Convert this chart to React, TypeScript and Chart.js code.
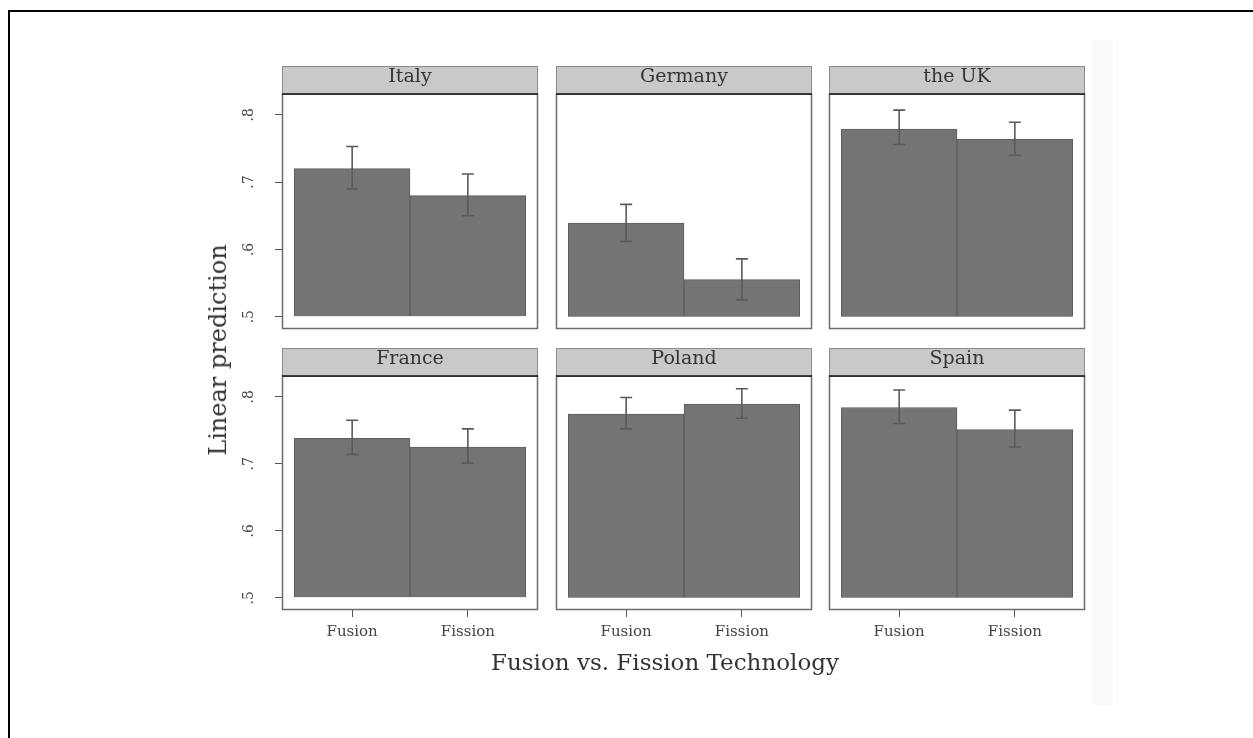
import React, { useEffect, useRef } from "react";
import { Chart, registerables } from "chart.js";

Chart.register(...registerables);

// ---------------- data ----------------
const countries = ["Italy", "Germany", "the UK", "France", "Poland", "Spain"];
const technologies = ["Fusion", "Fission"];
const techPositions = [0, 1];
const fusionMeans = [0.72, 0.639, 0.779, 0.738, 0.774, 0.784];
const fissionMeans = [0.68, 0.555, 0.764, 0.725, 0.789, 0.751];
const fusionLow = [0.69, 0.612, 0.756, 0.714, 0.752, 0.76];
const fusionHigh = [0.753, 0.667, 0.807, 0.765, 0.799, 0.81];
const fissionLow = [0.65, 0.525, 0.74, 0.701, 0.768, 0.725];
const fissionHigh = [0.712, 0.586, 0.789, 0.752, 0.812, 0.78];
const yTickValues = [0.5, 0.6, 0.7, 0.8];
const yTickLabels = [".5", ".6", ".7", ".8"];
const Y_MIN = 0.4817;
const Y_MAX = 0.831;
const BAR_BASE = 0.5;
const X_MIN = -0.6063;
const X_MAX = 1.6063;

// ---------------- layout ----------------
const PLOT_LEFTS = [282, 556, 829];
const PLOT_TOPS = [94, 376];
const PLOT_HEIGHTS = [235, 234];
const PLOT_W = 256;
const HEADER_H = 28;
const SERIF = '"DejaVu Serif", serif';

function Panel({ idx }: { idx: number }) {
  const ref = useRef<HTMLCanvasElement>(null);
  const col = idx % 3;
  const row = Math.floor(idx / 3);
  const isLeft = col === 0;
  const isBottom = row === 1;
  const yAxisW = isLeft ? 80 : 0;
  const padL = isLeft ? 0 : 3;
  const padR = 3;
  const padT = HEADER_H + 3;
  const xAxisH = isBottom ? 40 : 0;
  const padB = isBottom ? 0 : 3;
  const plotH = PLOT_HEIGHTS[row];
  const cw = yAxisW + padL + PLOT_W + padR;
  const ch = padT + plotH + xAxisH + padB;
  const left = PLOT_LEFTS[col] - yAxisW - padL;
  const top = PLOT_TOPS[row] - padT;

  useEffect(() => {
    if (!ref.current) return;
    const title = countries[idx];
    const lows = [fusionLow[idx], fissionLow[idx]];
    const highs = [fusionHigh[idx], fissionHigh[idx]];
    const means = [fusionMeans[idx], fissionMeans[idx]];

    const decor = {
      id: "panelDecor",
      afterDatasetsDraw(chart: any) {
        const ctx = chart.ctx;
        const meta = chart.getDatasetMeta(0);
        const ys = chart.scales.y;
        ctx.save();
        ctx.strokeStyle = "#5a5a5a";
        ctx.lineWidth = 1.6;
        meta.data.forEach((el: any, i: number) => {
          const x = el.x;
          const yt = ys.getPixelForValue(highs[i]);
          const yb = ys.getPixelForValue(lows[i]);
          ctx.beginPath();
          ctx.moveTo(x, yt);
          ctx.lineTo(x, yb);
          ctx.moveTo(x - 6, yt);
          ctx.lineTo(x + 6, yt);
          ctx.moveTo(x - 6, yb);
          ctx.lineTo(x + 6, yb);
          ctx.stroke();
        });
        ctx.restore();
      },
      afterDraw(chart: any) {
        const ctx = chart.ctx;
        const a = chart.chartArea;
        ctx.save();
        ctx.strokeStyle = "#6c6c6c";
        ctx.lineWidth = 1.5;
        ctx.strokeRect(a.left + 0.5, a.top, a.right - a.left - 1, a.bottom - a.top - 0.5);
        const hTop = a.top - HEADER_H;
        ctx.fillStyle = "#c9c9c9";
        ctx.fillRect(a.left, hTop, a.right - a.left, HEADER_H);
        ctx.strokeStyle = "#8c8c8c";
        ctx.lineWidth = 1;
        ctx.strokeRect(a.left + 0.5, hTop + 0.5, a.right - a.left - 1, HEADER_H);
        ctx.strokeStyle = "#111";
        ctx.lineWidth = 1.6;
        ctx.beginPath();
        ctx.moveTo(a.left, a.top);
        ctx.lineTo(a.right, a.top);
        ctx.stroke();
        ctx.fillStyle = "#333";
        ctx.font = "19px " + SERIF;
        ctx.textAlign = "center";
        ctx.textBaseline = "alphabetic";
        ctx.fillText(title, (a.left + a.right) / 2, hTop + 16);
        ctx.restore();
      },
    };

    const gridOpts = {
      display: true,
      offset: false,
      drawOnChartArea: false,
      drawTicks: true,
      tickLength: 7,
      color: "#555",
      lineWidth: 1,
    };

    const chart = new Chart(ref.current, {
      type: "bar",
      data: {
        datasets: [
          {
            data: techPositions.map((x, j) => ({ x, y: means[j] })),
            backgroundColor: "#747474",
            borderColor: "#5e5e5e",
            borderWidth: 1,
            base: BAR_BASE,
            categoryPercentage: 1,
            barPercentage: 1,
          } as any,
        ],
      },
      options: {
        animation: false,
        responsive: false,
        events: [],
        layout: { padding: { left: padL, right: padR, top: padT, bottom: padB } },
        plugins: {
          legend: { display: false },
          tooltip: { enabled: false },
          title: { display: false },
        },
        scales: {
          x: {
            type: "linear",
            offset: false,
            bounds: "data",
            min: X_MIN,
            max: X_MAX,
            display: isBottom,
            afterBuildTicks: (s: any) => {
              s.ticks = techPositions.map((v) => ({ value: v }));
            },
            afterFit: (s: any) => {
              if (isBottom) s.height = xAxisH;
              s.paddingLeft = 0;
              s.paddingRight = 0;
            },
            grid: gridOpts,
            border: { display: false },
            ticks: {
              padding: 6,
              color: "#444",
              font: { family: SERIF, size: 15 },
              autoSkip: false,
              maxRotation: 0,
              minRotation: 0,
              callback: (_v: any, i: number) => technologies[i],
            },
          },
          y: {
            type: "linear",
            min: Y_MIN,
            max: Y_MAX,
            display: isLeft,
            afterBuildTicks: (s: any) => {
              s.ticks = yTickValues.map((v) => ({ value: v }));
            },
            afterFit: (s: any) => {
              if (isLeft) s.width = yAxisW;
              s.paddingTop = 0;
              s.paddingBottom = 0;
            },
            grid: gridOpts,
            border: { display: false },
            ticks: {
              padding: 19,
              color: "#444",
              font: { family: SERIF, size: 14 },
              autoSkip: false,
              minRotation: 90,
              maxRotation: 90,
              crossAlign: "center",
              callback: (_v: any, i: number) => yTickLabels[i],
            },
          },
        },
      } as any,
      plugins: [decor],
    });
    return () => chart.destroy();
  }, [idx]);

  return (
    <canvas
      ref={ref}
      width={cw}
      height={ch}
      style={{ position: "absolute", left, top, width: cw, height: ch }}
    />
  );
}

export default function App() {
  return (
    <div
      style={{
        position: "fixed",
        left: 0,
        top: 0,
        width: 1253,
        height: 738,
        overflow: "hidden",
        background: "#fff",
      }}
    >
      <div
        style={{
          position: "absolute",
          left: 8,
          top: 10,
          width: 1300,
          height: 800,
          borderTop: "2px solid #000",
          borderLeft: "2px solid #000",
        }}
      />
      <div
        style={{
          position: "absolute",
          left: 1093,
          top: 40,
          width: 20,
          height: 665,
          background: "#fafafa",
        }}
      />
      {countries.map((c, i) => (
        <Panel key={c} idx={i} />
      ))}
      <div
        style={{
          position: "absolute",
          left: 218,
          top: 350,
          transform: "translate(-50%, -50%) rotate(-90deg)",
          whiteSpace: "nowrap",
          fontFamily: SERIF,
          fontSize: 24,
          lineHeight: 1,
          color: "#333",
        }}
      >
        Linear prediction
      </div>
      <div
        style={{
          position: "absolute",
          left: 665,
          top: 662,
          transform: "translate(-50%, -50%)",
          whiteSpace: "nowrap",
          fontFamily: SERIF,
          fontSize: 23,
          lineHeight: 1,
          color: "#333",
        }}
      >
        Fusion vs. Fission Technology
      </div>
    </div>
  );
}
